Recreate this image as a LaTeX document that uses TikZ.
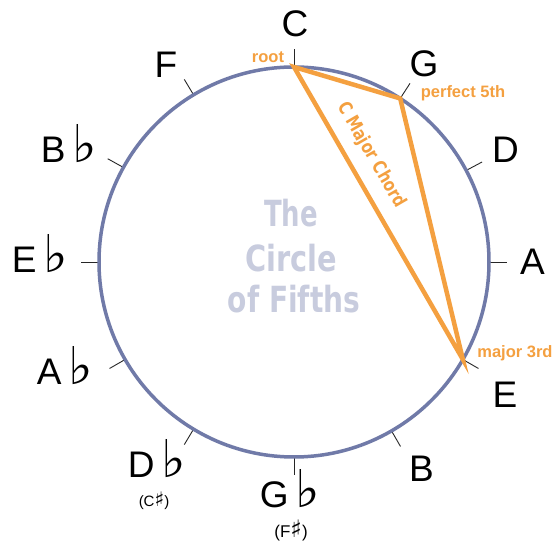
\documentclass[tikz,border=0pt]{standalone}
\usepackage{fontspec}
\usepackage{graphicx}
\setmainfont{Liberation Sans}
\newfontfamily\symfont{DejaVu Sans}
\newfontfamily\heavyfont{DejaVu Sans}
\usetikzlibrary{calc}
\definecolor{ringblue}{RGB}{112,122,168}
\definecolor{chordorange}{RGB}{244,160,64}
\definecolor{titlegray}{RGB}{200,204,222}
\newcommand\flt{\hspace{7pt}{\symfont\fontsize{52}{52}\selectfont ♭}}
\newcommand\shp[1]{{\symfont\fontsize{#1}{#1}\selectfont ♯}}
\tikzset{
  keylabel/.style={font=\fontsize{37}{37}\selectfont, anchor=base, inner sep=0pt, text=black},
  subtext/.style={font=\fontsize{17}{17}\selectfont, inner sep=0pt, text=black},
  subtextsmall/.style={font=\fontsize{15}{15}\selectfont, inner sep=0pt, text=black},
  notetick/.style={draw=black!85, line width=0.9pt},
  ring/.style={draw=ringblue, line width=3.5pt},
  chord/.style={draw=chordorange, line width=4.5pt, line join=miter},
  role/.style={text=chordorange, font=\fontsize{16.5}{16.5}\selectfont\bfseries, inner sep=0pt},
  heavy/.style={font=\heavyfont\fontsize{#1}{#1}\selectfont\bfseries},
  titletext/.style={text=titlegray, heavy=36, anchor=base, inner sep=0pt},
}
\begin{document}
\begin{tikzpicture}[x=1pt,y=1pt]
\fill[white] (0,0) rectangle (555,544);
\useasboundingbox (0,0) rectangle (555,544);
\coordinate (O) at (294,282);
\foreach \n/\a in {C/90, G/57, D/28, A/0, E/-30, B/-60, Gb/-90, Db/-121, Ab/-150, Eb/180, Bb/151, F/121} {
  \coordinate (p\n) at ($(O)+(\a:195pt)$);
  \coordinate (q\n) at ($(O)+(\a:213pt)$);
  \draw[notetick] (p\n) -- (q\n);
}
\draw[ring] (O) circle[radius=195pt];
% title
\node[titletext] (t1) at (291,317) {\scalebox{0.72}[1]{The}};
\node[titletext] (t2) at (291,272) {\scalebox{0.8}[1]{Circle}};
\node[titletext] (t3) at (294,231) {\scalebox{0.78}[1]{of Fifths}};
% chord
\draw[chord] (pC) -- (pG) -- (pE) -- cycle;
\coordinate (mid) at ($(pC)!0.34!(pE)$);
\node[role, heavy=18.5, rotate=-60] (chordname) at ($(mid)!23pt!90:(pE)$) {\scalebox{0.8}[1]{C Major Chord}};
\node[role] (root) at (268,487) {root};
\node[role] (fifth) at (463,451) {perfect 5th};
\node[role] (third) at (515,191) {major 3rd};
% note labels
\node[keylabel] (lC) at (295,507) {C};
\node[keylabel] (lG) at (424,467) {G};
\node[keylabel] (lD) at (505.5,381) {D};
\node[keylabel] (lA) at (532.5,269) {A};
\node[keylabel] (lE) at (505,136) {E};
\node[keylabel] (lB) at (421.5,62) {B};
\node[keylabel] (lGb) at (290,36) {G\flt};
\node[subtext] (sGb) at (291,14) {(F\shp{24})};
\node[keylabel] (lDb) at (157,66) {D\flt};
\node[subtextsmall] (sDb) at (154,43) {(C\shp{20})};
\node[keylabel] (lAb) at (65,159) {A\flt};
\node[keylabel] (lEb) at (40,271) {E\flt};
\node[keylabel] (lBb) at (69,381) {B\flt};
\node[keylabel] (lF) at (166,466) {F};
\end{tikzpicture}
\end{document}
